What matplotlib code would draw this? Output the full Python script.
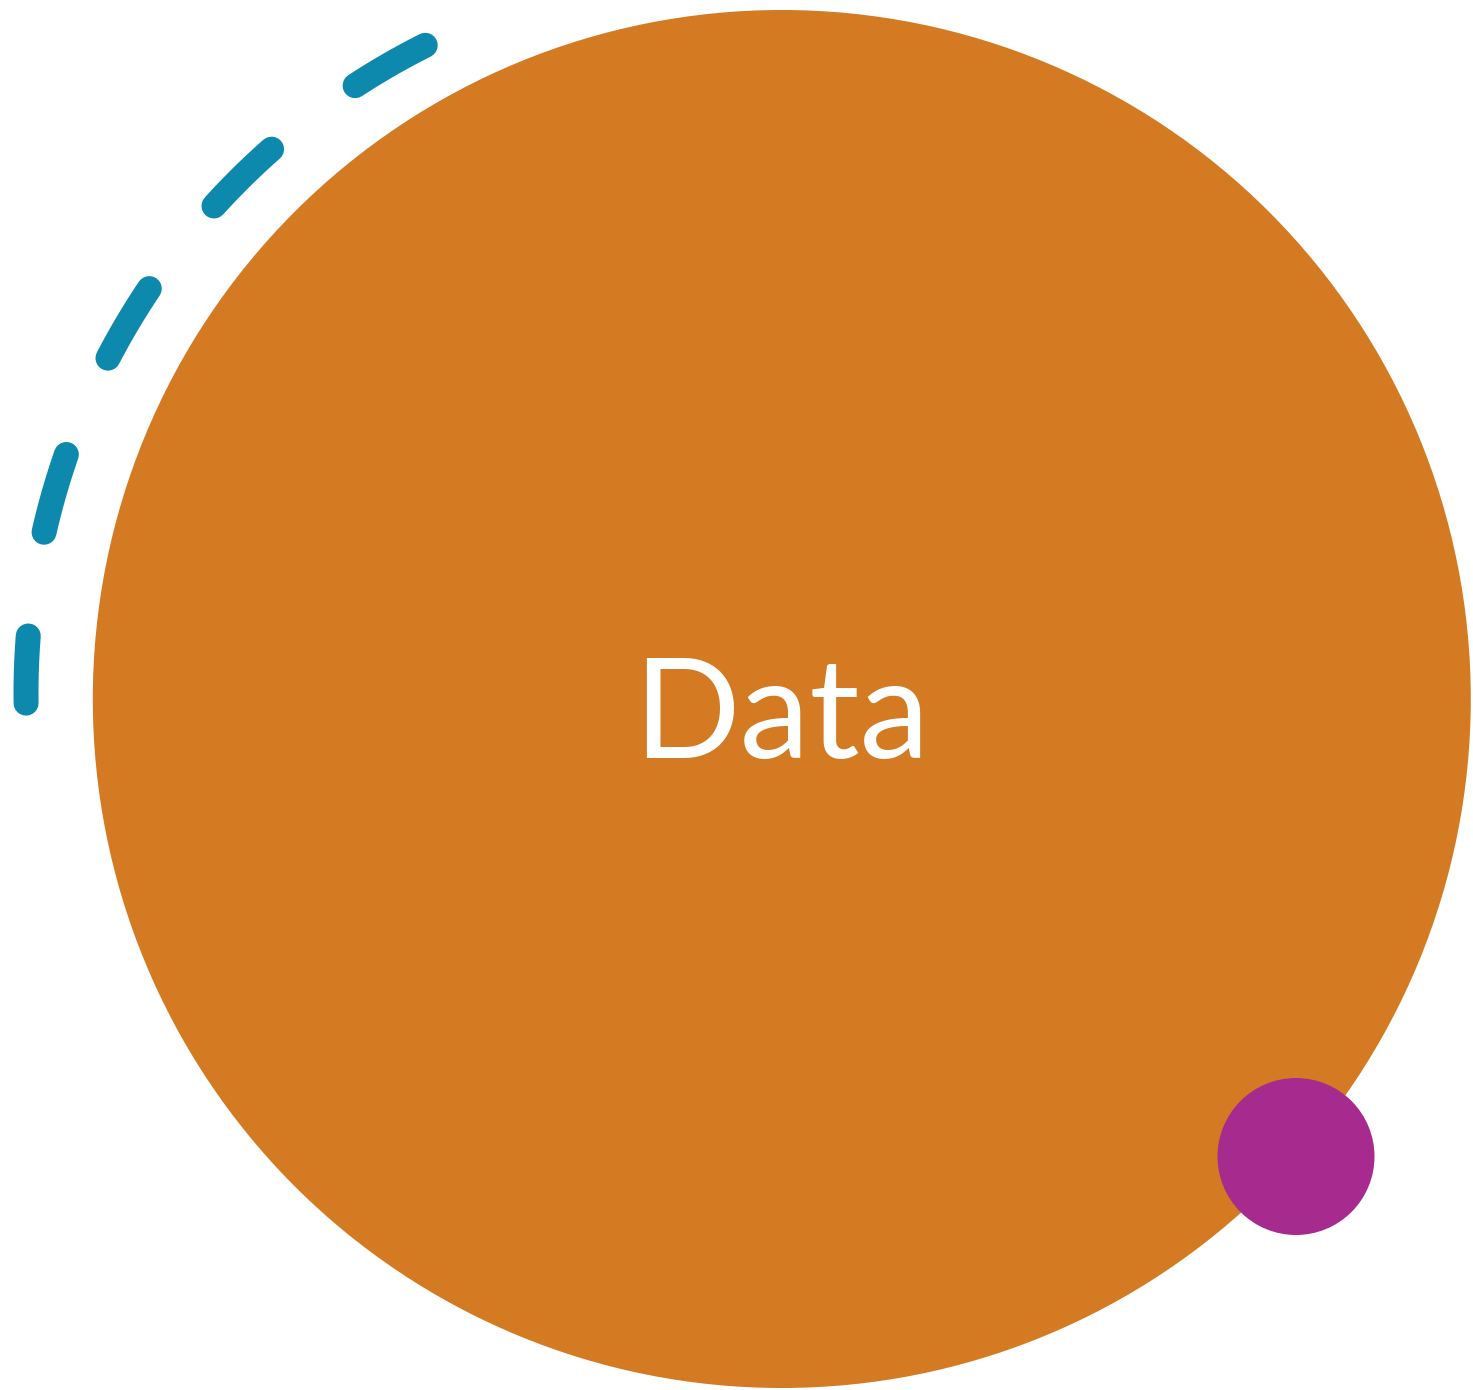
import numpy as np
import matplotlib
matplotlib.use("Agg")
import matplotlib.pyplot as plt
from matplotlib.patches import Circle

# ---- content ----
labels = ["Data"]
colors = {"main": "#D37A22", "accent": "#A72A8E", "arc": "#0D89AE"}

# ---- layout (pixel coordinates) ----
W, H = 1473, 1390
main_center, main_r = (781.8, 699.0), 689.0
dot_center, dot_r = (1296.0, 1156.5), 78.5
arc_center, arc_r = (751.0, 693.0), 725.0
arc_start_deg, arc_end_deg = 116.7, 180.8

plt.rcParams['lines.scale_dashes'] = False
fig = plt.figure(figsize=(W / 100, H / 100), dpi=100)
ax = fig.add_axes([0, 0, 1, 1])
ax.set_xlim(0, W)
ax.set_ylim(H, 0)
ax.set_aspect('equal')
ax.axis('off')

ax.add_patch(Circle(main_center, main_r, facecolor=colors["main"], edgecolor='none', zorder=1))
ax.add_patch(Circle(dot_center, dot_r, facecolor=colors["accent"], edgecolor='none', zorder=3))

t = np.radians(np.linspace(arc_start_deg, arc_end_deg, 400))
x = arc_center[0] + arc_r * np.cos(t)
y = arc_center[1] - arc_r * np.sin(t)
line, = ax.plot(x, y, color=colors["arc"], lw=18, solid_capstyle='round',
                dash_capstyle='round', zorder=2)
line.set_dashes((58.3, 75.6))

ax.text(781.5, 757.7, labels[0], color='white', fontsize=101, family='Lato',
        ha='center', va='baseline', zorder=4)

fig.savefig('out.png', dpi=100, facecolor='white')
